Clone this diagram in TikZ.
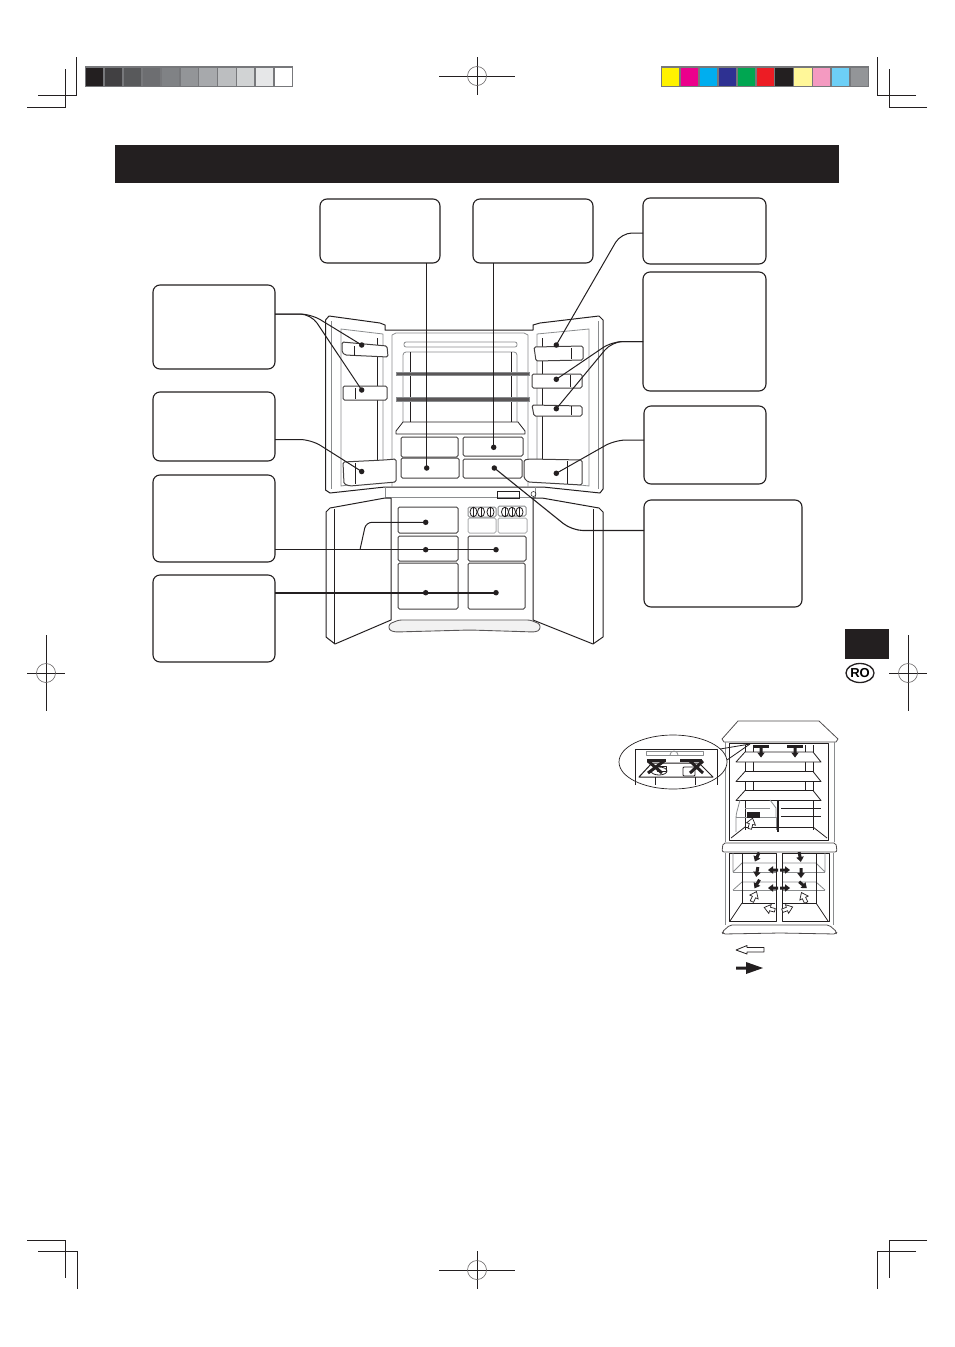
\documentclass[tikz,border=0pt]{standalone}
\usepackage{fontspec}
\setsansfont{Liberation Sans}
\usetikzlibrary{shapes.geometric, calc}
\definecolor{ink}{HTML}{231F20}
\definecolor{rim}{HTML}{77787B}
\definecolor{soft}{HTML}{8A8C8E}
\tikzset{
  callout/.style = {rectangle, rounded corners=7pt, draw=ink, line width=1.1pt, fill=white,
                    anchor=north west, inner sep=0pt, outer sep=0pt},
  pin/.style     = {circle, fill=ink, inner sep=0pt, minimum size=5.5pt},
  lead/.style    = {draw=ink, line width=1pt, rounded corners=11pt},
  leadbold/.style= {draw=ink, line width=1.8pt},
  body/.style    = {draw=ink, line width=0.8pt, line join=round},
  bodysoft/.style= {draw=soft, line width=0.8pt, line join=round},
  bin/.style     = {draw=ink!85, line width=1pt, rounded corners=1.5pt, fill=white},
  crop/.style    = {draw=ink, line width=0.9pt},
  swatch/.style  = {rectangle, draw=none, anchor=north west, inner sep=0pt, outer sep=0pt,
                    minimum width=17.2pt, minimum height=18pt},
  airblack/.pic  = {\fill[ink] (-5,-1.5) -- (0,-1.5) -- (0,-3.8) -- (5,0) -- (0,3.8) -- (0,1.5) -- (-5,1.5) -- cycle;},
  airwhite/.pic  = {\draw[fill=white, draw=ink, line width=0.7pt] (-5,-1.8) -- (0,-1.8) -- (0,-4.6) -- (6,0) -- (0,4.6) -- (0,1.8) -- (-5,1.8) -- cycle;},
}
\begin{document}
\begin{tikzpicture}[x=1pt, y=-1pt]
  \useasboundingbox (0,0) rectangle (954,1347);

  % printer strips
  \node[rectangle, fill=rim, anchor=north west, minimum width=208pt, minimum height=21pt, inner sep=0pt] (greybar) at (85,66) {};
  \foreach \shade [count=\i from 0] in {231F20,414042,58595B,6D6E71,808285,939598,A7A9AC,BCBEC0,D1D3D4,E6E7E8,FFFFFF} {
    \definecolor{cell}{HTML}{\shade}
    \node[swatch, fill=cell] (grey\i) at ({86+\i*18.9},67.5) {};
  }
  \node[rectangle, fill=rim, anchor=north west, minimum width=208pt, minimum height=21pt, inner sep=0pt] (inkbar) at (661,66) {};
  \foreach \shade [count=\i from 0] in {FFF200,EC008C,00AEEF,2E3192,00A651,ED1C24,231F20,FFF799,F49AC1,6DCFF6,939598} {
    \definecolor{cell}{HTML}{\shade}
    \node[swatch, fill=cell] (ink\i) at ({662+\i*18.9},67.5) {};
  }

  % crop marks
  \draw[crop] (38,95.5) -- (76.5,95.5) -- (76.5,57);
  \draw[crop] (27,107) -- (65,107) -- (65,69);
  \draw[crop] (916,95.5) -- (877,95.5) -- (877,57);
  \draw[crop] (927,107) -- (889,107) -- (889,69);
  \draw[crop] (27,1240) -- (65,1240) -- (65,1278);
  \draw[crop] (38,1251) -- (77,1251) -- (77,1289);
  \draw[crop] (916,1251) -- (877,1251) -- (877,1289);
  \draw[crop] (927,1240) -- (889,1240) -- (889,1278);
  \foreach \cx/\cy/\rx/\ry in {477/76/38/19, 477/1270/38/19, 46/673/19/38, 908/673/19/38} {
    \draw[crop] (\cx-\rx,\cy) -- (\cx+\rx,\cy);
    \draw[crop] (\cx,\cy-\ry) -- (\cx,\cy+\ry);
    \draw[draw=ink!70, line width=0.6pt] (\cx,\cy) circle (9.5pt);
  }

  % heading and tab
  \node[rectangle, fill=ink, anchor=north west, minimum width=724pt, minimum height=38pt, inner sep=0pt] (heading) at (115,145) {};
  \node[rectangle, fill=ink, anchor=north west, minimum width=44pt, minimum height=30pt, inner sep=0pt] (tab) at (845,629) {};
  \node[ellipse, draw=ink, line width=1.3pt, minimum width=28pt, minimum height=19pt, inner sep=0pt,
        font=\sffamily\bfseries\fontsize{13}{13}\selectfont] (lang) at (860,673) {RO};

  % upper doors
  \draw[body, line width=1pt] (325.5,320) -- (329,316) -- (380,323) -- (385,325) -- (385,330) -- (533,330) -- (533,325) -- (540,323) -- (599,316) -- (603,320) -- (603,489) -- (600,493) -- (543,487) -- (385,487) -- (330,493) -- (325.5,490) -- cycle;
  \draw[bodysoft] (331,321) -- (331,489);
  \draw[bodysoft] (598,321) -- (598,489);
  \draw[bodysoft] (341,329) -- (383,334) -- (383,480) -- (341,486) -- cycle;
  \draw[bodysoft] (589,329) -- (537,334) -- (537,480) -- (589,486) -- cycle;
  \draw[body] (377.5,338) -- (377.5,460);
  \draw[body] (542.5,338) -- (542.5,460);
  \draw[bodysoft] (392,487) -- (392,335) -- (396,333) -- (524,333) -- (528,335) -- (528,487);
  \draw[bodysoft, rounded corners=2pt] (404,342) rectangle (517,347);
  \draw[bodysoft, rounded corners=3pt] (403,423) -- (403,352) -- (517,352) -- (517,423);
  \draw[body, line width=1pt] (410,352) -- (410,423);
  \draw[body, line width=1pt] (511.5,352) -- (511.5,423);
  \draw[draw=soft, line width=0.7pt, fill=ink!75] (396,372) rectangle (529,375.5);
  \draw[draw=soft, line width=0.7pt, fill=ink!75] (396,397.5) rectangle (529,401);
  \draw[body, fill=white] (403,422) -- (518,422) -- (525,431) -- (525,434) -- (396,434) -- (396,431) -- cycle;

  % upper bins and drawers
  \draw[bin] (342,342) -- (387,346) -- (388,357) -- (345,355) -- (342,352) -- cycle;
  \draw[bin] (343,386) rectangle (387,400);
  \draw[bin] (343,462) -- (384,460) -- (396,459) -- (396,482) -- (350,486) -- (344,484) -- cycle;
  \draw[bin] (534,347) -- (583,346) -- (583,360) -- (536,361) -- cycle;
  \draw[bin] (532,374) -- (582,374) -- (582,388) -- (532,388) -- cycle;
  \draw[bin] (532,405) -- (582,406) -- (582,416) -- (534,416) -- cycle;
  \draw[bin] (524,460) -- (530,459) -- (582,460) -- (582,485) -- (528,482) -- (524,478) -- cycle;
  \draw[body] (354,346) -- (354,356);
  \draw[body] (355,388) -- (355,399);
  \draw[body] (571,348) -- (571,359);
  \draw[body] (570,375) -- (570,387);
  \draw[body] (571,406) -- (571,415);
  \draw[body] (355,463) -- (355,484);
  \draw[body] (567,461) -- (567,484);
  \draw[bin] (401,437) -- (458,437) -- (458,457) -- (401,457) -- cycle;
  \draw[bin] (463,437) rectangle (523,456);
  \draw[bin] (401,458) rectangle (459,478);
  \draw[bin] (463,459) rectangle (522,478);

  % sill
  \draw[bodysoft] (385,487) -- (385,497) -- (535,497) -- (535,487);
  \node[rectangle, draw=ink, line width=0.8pt, anchor=north west, minimum width=22pt, minimum height=7pt, inner sep=0pt] (display) at (497,490.5) {};
  \node[circle, draw=ink, line width=0.5pt, minimum size=5pt, inner sep=0pt] (lamp) at (533.5,494) {};

  % lower doors
  \draw[body, line width=1pt] (326,512) -- (330,508) -- (385,498) -- (391,498) -- (391,620) -- (335,644) -- (326,637) -- cycle;
  \draw[body] (334.5,509) -- (334.5,644);
  \draw[body, line width=1pt] (603,512) -- (599,508) -- (542,498) -- (533,498) -- (533,620) -- (593,644) -- (603,637) -- cycle;
  \draw[body] (593,509) -- (593,644);
  \draw[draw=ink!75, line width=0.9pt, fill=black!5, rounded corners=2.5pt] (389,624) -- (399,620) -- (530,620) -- (540,624) -- (540,630) -- (535,632) -- (470,630) -- (395,632) -- (389,630) -- cycle;

  % lower drawers
  \foreach \cx/\cy/\cw/\ch in {398/507/60/26, 398/536/60/25, 398/563/60/46, 468/536/58/25, 468/563/57/46} {
    \draw[bin] (\cx,\cy) rectangle ++(\cw,\ch);
  }
  \draw[bin, draw=soft!70] (468,518) rectangle (496,533);
  \draw[bin, draw=soft!70] (498,518) rectangle (527,533);
  \draw[bin, draw=soft] (468,507) rectangle (496,517);
  \draw[bin, draw=soft] (498,506) rectangle (526,516);
  \foreach \ex in {473.5, 481, 490.5, 505, 512, 519.5} {
    \draw[body] (\ex,512) ellipse (3.5pt and 4.8pt);
    \draw[body] (\ex,507.5) -- (\ex,516.5);
  }

  % callouts
  \node[callout, minimum width=120pt, minimum height=64pt] (crisper)  at (320,199) {};
  \node[callout, minimum width=120pt, minimum height=64pt] (chiller)  at (473,199) {};
  \node[callout, minimum width=123pt, minimum height=66pt] (dairy)    at (643,198) {};
  \node[callout, minimum width=123pt, minimum height=119pt] (pockets) at (643,272) {};
  \node[callout, minimum width=122pt, minimum height=78pt] (bottleR)  at (644,406) {};
  \node[callout, minimum width=158pt, minimum height=107pt] (fresh)   at (644,500) {};
  \node[callout, minimum width=122pt, minimum height=84pt] (eggs)     at (153,285) {};
  \node[callout, minimum width=122pt, minimum height=69pt] (bottleL)  at (153,392) {};
  \node[callout, minimum width=122pt, minimum height=87pt] (icebox)   at (153,475) {};
  \node[callout, minimum width=122pt, minimum height=87pt] (freezer)  at (153,575) {};

  % pins
  \node[pin] (pa) at (361.7,345) {};
  \node[pin] (pb) at (361.7,390) {};
  \node[pin] (pc) at (361.7,471.5) {};
  \node[pin] (pd) at (426.7,468) {};
  \node[pin] (pe) at (493.7,447.3) {};
  \node[pin] (pf) at (494.3,468) {};
  \node[pin] (pg) at (556.3,345) {};
  \node[pin] (ph) at (556.3,379.3) {};
  \node[pin] (pi) at (556.3,408.7) {};
  \node[pin] (pj) at (556.3,473.3) {};
  \node[pin] (pk) at (425.7,522.3) {};
  \node[pin] (pl) at (425.7,549.7) {};
  \node[pin] (pm) at (496,549.7) {};
  \node[pin] (pn) at (425.7,592.7) {};
  \node[pin] (po) at (496,592.7) {};

  % leaders
  \draw[lead] ([yshift=13pt]eggs.east) -- ++(36,0) -- (pa.center);
  \draw[lead] ([yshift=13pt]eggs.east) -- ++(36,0) -- (pb.center);
  \draw[lead] ([yshift=-13pt]bottleL.east) -- ++(36,0) -- (pc.center);
  \draw[lead] (icebox.east |- pl) -- (pm.center);
  \coordinate (fork) at ($(icebox.east |- pl)+(85,0)$);
  \draw[lead, rounded corners=6pt] (fork) -- (366,522.3) -- (pk.center);
  \draw[leadbold] (freezer.east |- pn) -- (po.center);
  \draw[lead] (crisper.south -| pd) -- (pd.center);
  \draw[lead] (chiller.south -| pe) -- (pe.center);
  \draw[lead] ([yshift=-2pt]dairy.west) -- ++(-22,0) -- (pg.center);
  \draw[lead] ([yshift=-10pt]pockets.west) -- ++(-31,0) -- (ph.center);
  \draw[lead] ([yshift=-10pt]pockets.west) -- ++(-31,0) -- (pi.center);
  \draw[lead] ([yshift=5pt]bottleR.west) -- ++(-29,0) -- (pj.center);
  \draw[lead, line width=1.1pt] ([yshift=23pt]fresh.west) -- ++(-72,0) -- (pf.center);

  % air flow, upper part
  \draw[bodysoft, draw=ink!80] (722,739) -- (738,721) -- (819,721) -- (838,739) -- (836,742) -- (724,742) -- cycle;
  \draw[bodysoft] (725,742) -- (725,842);
  \draw[bodysoft] (834,742) -- (834,842);
  \draw[body, line width=1pt] (729,743.5) rectangle (828,840);
  \draw[body] (745,745) -- (745,830);
  \draw[body] (753,745) -- (753,800);
  \draw[body] (805,745) -- (805,800);
  \draw[body] (813,745) -- (813,830);
  \foreach \sy in {752, 771.5, 790.5} {
    \draw[body, fill=white] (745,\sy) -- (813,\sy) -- (821,\sy+10) -- (736,\sy+10) -- cycle;
  }
  \draw[body] (781,808) -- (821,808);
  \draw[body] (781,816) -- (821,816);
  \draw[bodysoft, rounded corners=3pt] (736,832) -- (736,815) -- (740,800);
  \draw[bodysoft] (736,817) -- (776,817) -- (776,830);
  \draw[bodysoft] (770,800) -- (776,808) -- (776,817);
  \draw[bodysoft] (745,808) -- (770,808);
  \draw[body] (745,827) -- (813,827);
  \draw[body] (745,827) -- (731,838);
  \draw[body] (813,827) -- (827,838);
  \draw[body, line width=1.6pt] (778.2,800) -- (778.2,832);
  \foreach \tx in {761, 795} {
    \fill[ink] (\tx-8,745) rectangle (\tx+8,747.5);
    \pic[rotate=-90] at (\tx,752.5) {airblack};
  }
  \pic[rotate=75] at (751,824) {airwhite};
  \fill[ink] (747,812) rectangle (760,817.5);

  % inset
  \node[ellipse, draw=ink, line width=0.7pt, fill=white, minimum width=108pt, minimum height=54pt, inner sep=0pt] (inset) at (673,762) {};
  \coordinate (outlet) at (750,744);
  \draw[body] ($(inset.center)+(47,-13)$) -- (outlet);
  \draw[body] ($(inset.center)+(54,-2)$) -- (outlet);
  \draw[body, line width=1pt] (635,785) -- (635,749) -- (717,749) -- (717,785);
  \draw[bodysoft] (646,751.5) rectangle (703,755);
  \draw[bodysoft] (670,755) arc[start angle=180, end angle=0, radius=4pt];
  \draw[body, line width=1pt] (639,777) -- (652,763) -- (699,763) -- (713,777) -- cycle;
  \draw[body] (655,777) -- (655,785);
  \draw[body] (695,777) -- (695,785);
  \draw[body] (659,771) ellipse (8pt and 4pt);
  \draw[body] (657,766) rectangle (666,771);
  \draw[body, fill=white, rounded corners=1pt] (683,767) rectangle (695,776);
  \fill[ink] (647,759) rectangle (666,762);
  \fill[ink] (680,759) rectangle (702,762);
  \draw[ink, line width=3pt] (648,761) -- (662,773) (664,761) -- (648,773);
  \draw[ink, line width=3pt] (690,761) -- (703,773) (703,761) -- (690,773);

  % air flow, lower part
  \draw[bodysoft, draw=ink!80, rounded corners=2pt] (723,843) -- (836,843) -- (837,852) -- (722,852) -- cycle;
  \draw[bodysoft] (725,853) -- (725,925);
  \draw[bodysoft] (833,853) -- (833,925);
  \draw[body, line width=1pt] (729,853) rectangle (776,921.5);
  \draw[body, line width=1pt] (782,853) rectangle (829,921.5);
  \draw[bodysoft] (733,853) -- (733,872) -- (742,863) -- (776,863);
  \draw[bodysoft] (733,872) -- (776,872);
  \draw[bodysoft] (733,890) -- (742,882) -- (776,882);
  \draw[bodysoft] (733,890) -- (776,890);
  \draw[body] (742,853) -- (742,903) -- (775,903);
  \draw[body] (742,903) -- (730,921);
  \draw[bodysoft] (825,853) -- (825,872) -- (816,863) -- (783,863);
  \draw[bodysoft] (825,872) -- (783,872);
  \draw[bodysoft] (825,890) -- (816,882) -- (783,882);
  \draw[bodysoft] (825,890) -- (783,890);
  \draw[body] (816,853) -- (816,903) -- (783,903);
  \draw[body] (816,903) -- (828,921);
  \draw[bodysoft, draw=ink!80, rounded corners=2pt] (722,932) -- (730,925) -- (829,925) -- (837,932) -- (836,934) -- (780,933) -- (723,934) -- cycle;
  \foreach \ax/\ay/\ang in {757/857/-115, 757/872/-100, 757/884/-120, 800/857/-80, 801/873/-90, 803/885/-40} {
    \pic[rotate=\ang] at (\ax,\ay) {airblack};
  }
  \foreach \ax/\ay/\ang in {773/870/180, 785/870/0, 773/888/180, 785/888/0} {
    \pic[rotate=\ang] at (\ax,\ay) {airblack};
  }
  \foreach \ax/\ay/\ang in {754/897/65, 804/898/115, 770/909/165, 787/909/20} {
    \pic[rotate=\ang] at (\ax,\ay) {airwhite};
  }

  % legend
  \draw[body, fill=white] (736,950) -- (747,945.5) -- (747,947.5) -- (764,947.5) -- (764,952) -- (747,952) -- (747,954) -- cycle;
  \fill[ink] (736,966.5) -- (746,966.5) -- (746,962) -- (763,968) -- (746,974) -- (746,969.5) -- (736,969.5) -- cycle;
\end{tikzpicture}
\end{document}
